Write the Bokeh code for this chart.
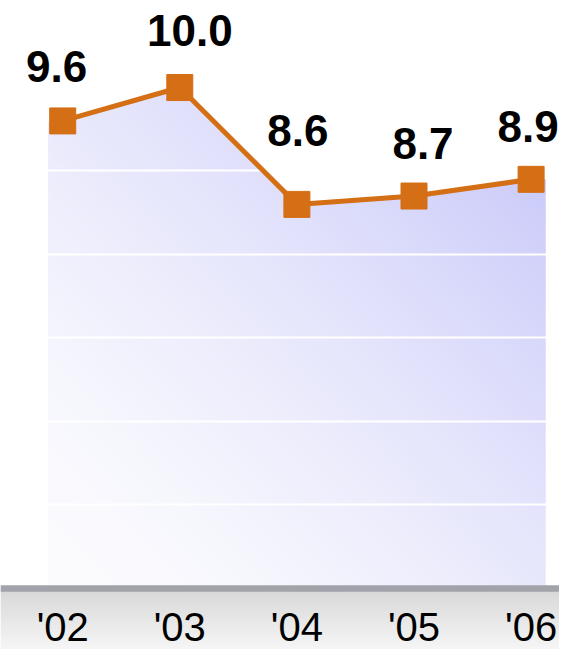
import numpy as np
from bokeh.plotting import figure
from bokeh.models import Range1d, LinearAxis, FixedTicker, Grid, ColumnDataSource
from bokeh.core.properties import value
from bokeh.embed import file_html
from bokeh.resources import INLINE

# ---- data ----
years = ["'02", "'03", "'04", "'05", "'06"]
rates = [9.6, 10.0, 8.6, 8.7, 8.9]
grid_ticks = [5, 6, 7, 8, 9]
y_base = 4.0

xi = list(range(len(years)))

# ---- style ----
W, H = 559, 649
ORANGE = "#d46f16"
PAD = 0.125
label_dx = [-6, 10, 1, 9, -3]
label_dy = [-54, -57, -74, -52.5, -53]

p = figure(width=W, height=H,
           x_range=Range1d(-0.5312, 4.2425), y_range=Range1d(3.2673, 11.0426),
           x_axis_type=None, y_axis_type=None,
           output_backend="svg", toolbar_location=None,
           min_border=0, outline_line_color=None,
           background_fill_color="white", border_fill_color="white")

# gradient area under the line
ax0, ax1 = xi[0] - PAD, xi[-1] + PAD
ay0, ay1 = y_base, max(rates)
nx, ny = 128, 128
u = np.linspace(0, 1, nx)[None, :]
v = np.linspace(0, 1, ny)[:, None]
t = (u + v) / 2.0
rg = 252 - 56 * t ** 1.5
bl = 255 - 5 * t
img = np.empty((ny, nx), dtype=np.uint32)
view = img.view(np.uint8).reshape(ny, nx, 4)
view[..., 0] = rg.astype(np.uint8)
view[..., 1] = rg.astype(np.uint8)
view[..., 2] = np.broadcast_to(bl, (ny, nx)).astype(np.uint8)
view[..., 3] = 255
p.image_rgba(image=[img], x=ax0, y=ay0, dw=ax1 - ax0, dh=ay1 - ay0, level="image")

# white mask above the line (slightly wider than the gradient to hide edges)
ext = 0.06
mx = [ax0 - ext, ax0] + xi + [ax1, ax1 + ext]
my = [rates[0], rates[0]] + rates + [rates[-1], rates[-1]]
p.varea(x=mx, y1=my, y2=ay1 + 0.3, fill_color="white", level="image")

# gray band under the axis
rows = 64
g = np.linspace(246, 216, rows)[:, None]
band = np.empty((rows, 1), dtype=np.uint32)
bv = band.view(np.uint8).reshape(rows, 1, 4)
bv[..., 0] = g.astype(np.uint8)
bv[..., 1] = g.astype(np.uint8)
bv[..., 2] = g.astype(np.uint8)
bv[..., 3] = 255
xs, xe = p.x_range.start, p.x_range.end
ys = p.y_range.start
p.image_rgba(image=[band], x=xs, y=ys, dw=xe - xs, dh=y_base - ys, level="image")

# grid
p.add_layout(Grid(dimension=1, ticker=FixedTicker(ticks=grid_ticks),
                  grid_line_color="white", grid_line_width=2))

# x axis
xaxis = LinearAxis(ticker=FixedTicker(ticks=xi),
                   major_label_overrides={i: y for i, y in zip(xi, years)},
                   fixed_location=y_base,
                   axis_line_color="#a2a2aa", axis_line_width=6.5,
                   major_tick_line_color=None, minor_tick_line_color=None,
                   major_tick_in=0, major_tick_out=0,
                   major_label_standoff=17,
                   major_label_text_font="Liberation Sans",
                   major_label_text_font_size="40px",
                   major_label_text_color="black")
p.add_layout(xaxis, "below")

src = ColumnDataSource(dict(x=xi, y=rates, label=[f"{r:.1f}" for r in rates],
                            dx=label_dx, dy=label_dy))
p.line("x", "y", source=src, line_color=ORANGE, line_width=5)
p.scatter("x", "y", source=src, marker="square", size=26,
          fill_color=ORANGE, line_color=ORANGE, line_width=1)
p.text("x", "y", text="label", x_offset="dx", y_offset="dy", source=src,
       text_font=value("Liberation Sans"), text_font_style="bold",
       text_font_size="44px", text_align="center", text_baseline="alphabetic",
       text_color="black")

open("out.html", "w").write(file_html(p, INLINE))
